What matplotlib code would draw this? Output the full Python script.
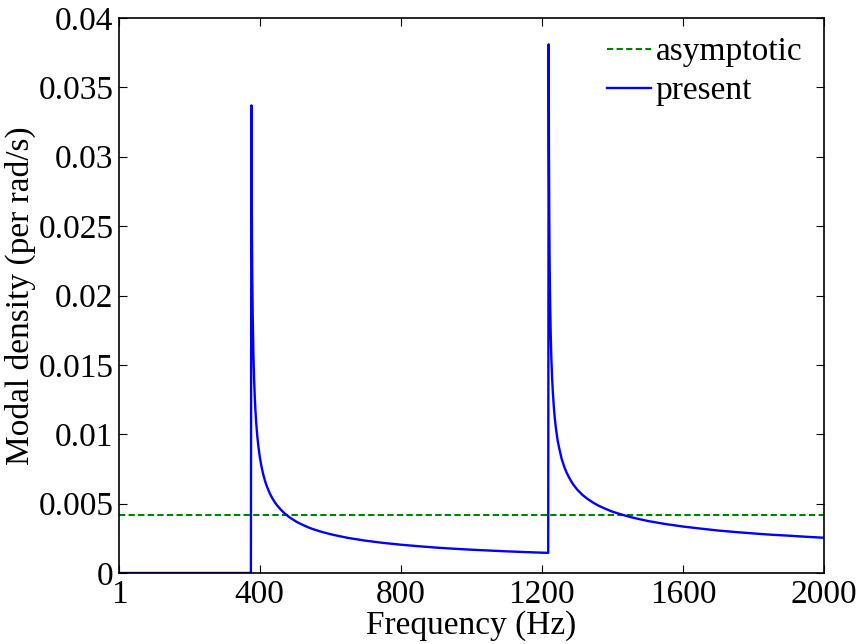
import matplotlib.pyplot as plt

plt.rcParams['font.family'] = ['Liberation Serif', 'DejaVu Serif']

# frequency (Hz) and modal density (per rad/s)
freq = [1, 375, 376.5, 377, 378, 379, 380, 382, 384, 386, 388, 390, 393, 396,
        400, 405, 410, 415, 420, 428, 435, 443, 450, 460, 470, 480, 490, 505,
        520, 535, 550, 575, 600, 625, 650, 700, 750, 800, 850, 900, 950, 1000,
        1050, 1100, 1150, 1218,
        1219.3, 1220, 1221, 1222, 1223, 1225, 1227, 1229, 1231, 1234, 1237,
        1240, 1245, 1250, 1256, 1263, 1270, 1280, 1290, 1300, 1315, 1330,
        1345, 1360, 1380, 1400, 1425, 1450, 1475, 1500, 1550, 1600, 1650,
        1700, 1750, 1800, 1850, 1900, 1950, 2000]
present = [0, 0, 0.0337, 0.0297, 0.0242, 0.0210, 0.0188, 0.0159, 0.0140,
           0.01266, 0.01165, 0.01084, 0.0099, 0.00917, 0.0084, 0.00767,
           0.0071, 0.00664, 0.00626, 0.00577, 0.00542, 0.00509, 0.00485,
           0.00456, 0.00431, 0.0041, 0.00392, 0.00368, 0.00349, 0.00332,
           0.00317, 0.00297, 0.0028, 0.00266, 0.00253, 0.00233, 0.00217,
           0.00204, 0.00193, 0.00183, 0.00175, 0.00168, 0.00162, 0.00156,
           0.00151, 0.00145,
           0.0381, 0.0311, 0.0256, 0.0224, 0.0202, 0.0173, 0.0154, 0.0141,
           0.0131, 0.01194, 0.01108, 0.0104, 0.00951, 0.0089, 0.00824,
           0.00769, 0.00724, 0.00675, 0.00634, 0.00602, 0.00563, 0.00533,
           0.00508, 0.00486, 0.00463, 0.00442, 0.00422, 0.00404, 0.00389,
           0.00375, 0.00353, 0.00335, 0.0032, 0.00306, 0.00295, 0.00285,
           0.00276, 0.00269, 0.00261, 0.00254]
asym_freq = [1, 2000]
asymptotic = [0.00415, 0.00415]

xticks = [1, 400, 800, 1200, 1600, 2000]
yticks = [0, 0.005, 0.01, 0.015, 0.02, 0.025, 0.03, 0.035, 0.04]
ytick_labels = ['0', '0.005', '0.01', '0.015', '0.02', '0.025', '0.03', '0.035', '0.04']

fig = plt.figure(figsize=(8.58, 6.44), dpi=100)
ax = fig.add_axes([119 / 858, 71 / 644, 705 / 858, 555 / 644])

ax.plot(asym_freq, asymptotic, '--', color='#008000', lw=1.5, dashes=(3, 1.6), label='asymptotic')
ax.plot(freq, present, '-', color='#0000ff', lw=1.7, label='present')

ax.set_xlim(1, 2000)
ax.set_ylim(0, 0.04)
ax.set_xticks(xticks)
ax.set_xticklabels([str(t) for t in xticks])
ax.set_yticks(yticks)
ax.set_yticklabels(ytick_labels)
ax.tick_params(direction='in', length=6, width=0.8, top=True, right=True,
               labelsize=24)
ax.tick_params(axis='x', pad=5)
ax.tick_params(axis='y', pad=4)
for s in ax.spines.values():
    s.set_linewidth(1.2)

ax.set_xlabel('Frequency (Hz)', fontsize=24, labelpad=0)
ax.set_ylabel('Modal density (per rad/s)', fontsize=24, labelpad=2)

ax.legend(loc='upper right', frameon=False, fontsize=24, handlelength=1.3,
          handletextpad=0.15, labelspacing=0.25, borderaxespad=0.0,
          bbox_to_anchor=(0.988, 0.99))

fig.savefig('out.png', dpi=100)
